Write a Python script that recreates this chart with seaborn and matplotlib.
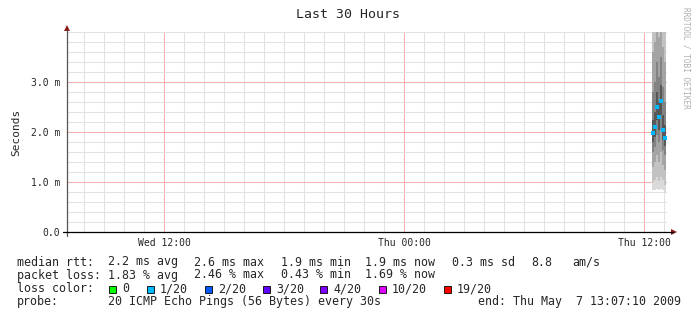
import numpy as np
import pandas as pd
import matplotlib
matplotlib.use("Agg")
import matplotlib.pyplot as plt
from matplotlib.patches import Rectangle, Polygon
from matplotlib.lines import Line2D
import seaborn as sns

# ---------------- data ----------------
# step start times, hours relative to Thu 00:00 (6-minute steps)
step_start = [12.40, 12.50, 12.60, 12.70, 12.80, 12.90, 13.00]
step_len = 0.10
median_ms = [1.99, 2.11, 2.49, 2.31, 2.63, 2.05, 1.89]
# smoke bands (ms): outermost (lightest) -> innermost (darkest)
band1_lo = [0.84, 0.84, 0.86, 0.84, 0.86, 0.84, 0.78]
band1_hi = [4.60, 4.60, 4.60, 4.60, 4.60, 4.60, 4.60]
band2_lo = [1.00, 1.05, 1.10, 1.02, 1.10, 1.05, 0.95]
band2_hi = [4.30, 4.40, 4.60, 4.50, 4.60, 4.40, 4.20]
band3_lo = [1.30, 1.40, 1.55, 1.40, 1.60, 1.35, 1.25]
band3_hi = [3.60, 3.80, 4.20, 3.90, 4.30, 3.70, 3.40]
band4_lo = [1.60, 1.70, 1.95, 1.80, 2.05, 1.65, 1.55]
band4_hi = [2.80, 3.00, 3.40, 3.10, 3.50, 2.90, 2.60]
band5_lo = [1.80, 1.90, 2.25, 2.05, 2.35, 1.85, 1.72]
band5_hi = [2.25, 2.40, 2.80, 2.60, 2.95, 2.35, 2.15]
band_colors = ["#dadada", "#c2c2c2", "#a4a4a4", "#838383", "#585858"]

x_start = -16.85    # left edge of the 30-hour window (hours rel. Thu 00:00)
x_end = 13.15
y_max = 4.0
y_ticks = [0.0, 1.0, 2.0, 3.0]
y_tick_labels = ["0.0", "1.0 m", "2.0 m", "3.0 m"]
x_ticks = [-12, 0, 12]
x_tick_labels = ["Wed 12:00", "Thu 00:00", "Thu 12:00"]

loss_labels = ["0", "1/20", "2/20", "3/20", "4/20", "10/20", "19/20"]
loss_colors = ["#00ff00", "#00b8ff", "#0059ff", "#5e00ff", "#7e00ff", "#dd00ff", "#ff0000"]
median_color = loss_colors[1]

rtt_items = ["2.2 ms avg", "2.6 ms max", "1.9 ms min", "1.9 ms now", "0.3 ms sd", "8.8", "am/s"]
loss_items = ["1.83 % avg", "2.46 % max", "0.43 % min", "1.69 % now"]

# ---------------- figure ----------------
sns.set_style("white")
plt.rcParams["font.family"] = ["DejaVu Sans Mono", "DejaVu Sans"]

W, H = 697, 321
fig = plt.figure(figsize=(W / 100, H / 100), dpi=100)
fig.patch.set_facecolor("white")

L, R, T, B = 67, 667, 32, 232
ax = fig.add_axes([L / W, 1 - B / H, (R - L) / W, (B - T) / H])
ax.set_facecolor("white")
ax.set_xlim(x_start, x_end)
ax.set_ylim(0, y_max)

# grid
minor_x = [h for h in range(-16, 14) if h not in x_ticks]
minor_y = [round(v, 1) for v in np.arange(0, 4.01, 0.2) if round(v, 1) not in y_ticks]
ax.set_xticks(minor_x, minor=True)
ax.set_yticks(minor_y, minor=True)
ax.set_xticks(x_ticks)
ax.set_xticklabels(x_tick_labels)
ax.set_yticks(y_ticks)
ax.set_yticklabels(y_tick_labels)
ax.grid(which="minor", color="#e2e2e2", linewidth=0.75)
ax.grid(which="major", color="#f5b0b0", linewidth=0.75)
ax.set_axisbelow(True)
ax.tick_params(which="both", length=0)
ax.tick_params(axis="y", pad=5, labelsize=7.0)
ax.tick_params(axis="x", pad=4.5, labelsize=7.0)
for s in ax.spines.values():
    s.set_visible(False)

# smoke
edges = list(step_start) + [step_start[-1] + step_len]
bands = [(band1_lo, band1_hi), (band2_lo, band2_hi), (band3_lo, band3_hi),
         (band4_lo, band4_hi), (band5_lo, band5_hi)]
for (lo, hi), c in zip(bands, band_colors):
    ax.fill_between(edges, list(lo) + [lo[-1]], list(hi) + [hi[-1]],
                    step="post", color=c, linewidth=0, zorder=3, antialiased=False)

# median
df = pd.DataFrame({"t": np.array(step_start) + step_len / 2, "median": median_ms})
sns.scatterplot(data=df, x="t", y="median", marker="s", s=6, color=median_color,
                linewidth=0, ax=ax, zorder=5, legend=False)
ax.set_xlabel("")
ax.set_ylabel("")

# ---------------- decorations in pixel coords ----------------
def fx(x):
    return x / W

def fy(y):
    return 1 - y / H

# axes lines + arrows
fig.add_artist(Line2D([fx(L), fx(L)], [fy(B + 4), fy(30)], color="#555555", lw=0.9))
fig.add_artist(Line2D([fx(L - 4), fx(673)], [fy(B), fy(B)], color="#000000", lw=0.9))
fig.add_artist(Polygon([[fx(L - 3), fy(31)], [fx(L + 3), fy(31)], [fx(L), fy(25)]],
                       closed=True, color="#8b1a1a", lw=0))
fig.add_artist(Polygon([[fx(671), fy(B - 3)], [fx(671), fy(B + 3)], [fx(677), fy(B)]],
                       closed=True, color="#8b1a1a", lw=0))

fig.text(fx(348.5), fy(15), "Last 30 Hours", ha="center", va="center", fontsize=9.5)
fig.text(fx(16), fy(132), "Seconds", ha="center", va="center", rotation=90, fontsize=8.0)
fig.text(fx(686), fy(7), "RRDTOOL / TOBI OETIKER", ha="center", va="top",
         rotation=270, fontsize=5.6, color="#b0b0b0")

fs = 8.4
row_y = [262, 275, 289, 302]
fig.text(fx(17), fy(row_y[0]), "median rtt:", ha="left", va="center", fontsize=fs)
for xp, s in zip([108, 194, 281, 365, 452, 531, 572], rtt_items):
    fig.text(fx(xp), fy(row_y[0]), s, ha="left", va="center", fontsize=fs)
fig.text(fx(17), fy(row_y[1]), "packet loss:", ha="left", va="center", fontsize=fs)
for xp, s in zip([108, 194, 281, 365], loss_items):
    fig.text(fx(xp), fy(row_y[1]), s, ha="left", va="center", fontsize=fs)
fig.text(fx(17), fy(row_y[2]), "loss color:", ha="left", va="center", fontsize=fs)
for xp, lab, c in zip([109, 147, 205, 263, 320, 379, 444], loss_labels, loss_colors):
    fig.add_artist(Rectangle((fx(xp), fy(row_y[2] + 3.5)), 7 / W, 7 / H,
                             facecolor=c, edgecolor="black", lw=0.6))
    fig.text(fx(xp + 13), fy(row_y[2]), lab, ha="left", va="center", fontsize=fs)
fig.text(fx(17), fy(row_y[3]), "probe:", ha="left", va="center", fontsize=fs)
fig.text(fx(108), fy(row_y[3]), "20 ICMP Echo Pings (56 Bytes) every 30s",
         ha="left", va="center", fontsize=fs)
fig.text(fx(681), fy(row_y[3]), "end: Thu May  7 13:07:10 2009",
         ha="right", va="center", fontsize=fs)

fig.savefig("out.png", dpi=100, facecolor="white")
